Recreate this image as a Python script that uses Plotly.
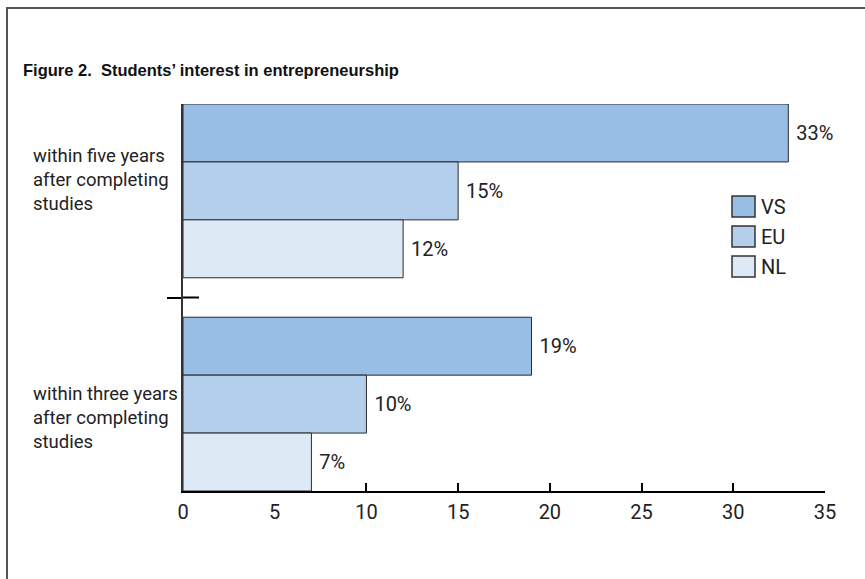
import plotly.graph_objects as go

categories = ["within five years<br>after completing<br>studies",
              "within three years<br>after completing<br>studies"]
series_names = ["VS", "EU", "NL"]
vs_values = [33, 19]
eu_values = [15, 10]
nl_values = [12, 7]
series_values = [vs_values, eu_values, nl_values]
colors = ["#99bee5", "#b4cfeb", "#dde9f5"]
x_ticks = [0, 5, 10, 15, 20, 25, 30, 35]
title_text = "Figure 2.  Students\u2019 interest in entrepreneurship"

W, H = 865, 579
L, R, T, B = 183, 40, 104, 88
PW, PH = W - L - R, H - T - B


def px(x):
    return (x - L) / PW


def py(y):
    return (H - B - y) / PH


NUM_FONT = "Roboto, Arial, sans-serif"
TXT_FONT = "Roboto, Liberation Sans, Arial, sans-serif"

fig = go.Figure()
for name, vals, col in zip(series_names, series_values, colors):
    fig.add_trace(go.Bar(
        y=categories, x=vals, orientation="h", name=name,
        marker=dict(color=col, line=dict(color="#2a2a2a", width=1)),
        text=[f"\u00a0{v}%" for v in vals], textposition="outside",
        textfont=dict(family=NUM_FONT, size=20, color="#222"),
        cliponaxis=False, showlegend=False,
    ))

shapes = []
annotations = []

# outer frame
shapes.append(dict(type="rect", xref="paper", yref="paper",
                   x0=px(7), x1=px(880), y0=py(600), y1=py(8),
                   line=dict(color="#555", width=2), fillcolor="rgba(0,0,0,0)", layer="below"))
# inner part of category separator tick
shapes.append(dict(type="line", xref="x", yref="y", x0=0, x1=16 / PW * 35, y0=0.5, y1=0.5,
                   line=dict(color="black", width=2)))

# title
annotations.append(dict(text="<b>" + title_text + "</b>", xref="paper", yref="paper",
                        x=px(21), y=py(70), xanchor="left", yanchor="middle", showarrow=False,
                        font=dict(family="Liberation Sans, Arial, sans-serif", size=16.5, color="#111")))

# category labels
for cat, ymid in zip(categories, [180, 418]):
    annotations.append(dict(text=cat, xref="paper", yref="paper", x=px(31), y=py(ymid),
                            xanchor="left", yanchor="middle", align="left", showarrow=False,
                            font=dict(family=TXT_FONT, size=18.5, color="#222")))

# legend
for i, (name, col) in enumerate(zip(series_names, colors)):
    top = 196 + 30 * i
    shapes.append(dict(type="rect", xref="paper", yref="paper",
                       x0=px(732), x1=px(755), y0=py(top + 21), y1=py(top),
                       line=dict(color="#333", width=1.5), fillcolor=col))
    annotations.append(dict(text=name, xref="paper", yref="paper", x=px(759), y=py(top + 10.5),
                            xanchor="left", yanchor="middle", showarrow=False,
                            font=dict(family=NUM_FONT, size=20, color="#222")))

fig.update_layout(
    width=W, height=H,
    margin=dict(l=L, r=R, t=T, b=B),
    paper_bgcolor="white", plot_bgcolor="white",
    barmode="group", bargap=0.185, bargroupgap=0,
    shapes=shapes, annotations=annotations,
    xaxis=dict(range=[0, 35], tickvals=x_ticks, ticks="inside", ticklen=8, tickwidth=2,
               tickcolor="black", showline=True, linecolor="black", linewidth=2,
               showgrid=False, zeroline=False, layer="below traces", ticklabelstandoff=2,
               tickfont=dict(family=NUM_FONT, size=20, color="#222")),
    yaxis=dict(type="category", categoryorder="array", categoryarray=categories,
               range=[1.4075, -0.4075], showticklabels=False, tickson="boundaries",
               ticks="outside", ticklen=14, tickwidth=2, tickcolor="black",
               showline=True, linecolor="#333", linewidth=2, showgrid=False, zeroline=False),
)

fig.write_html("out.html")
